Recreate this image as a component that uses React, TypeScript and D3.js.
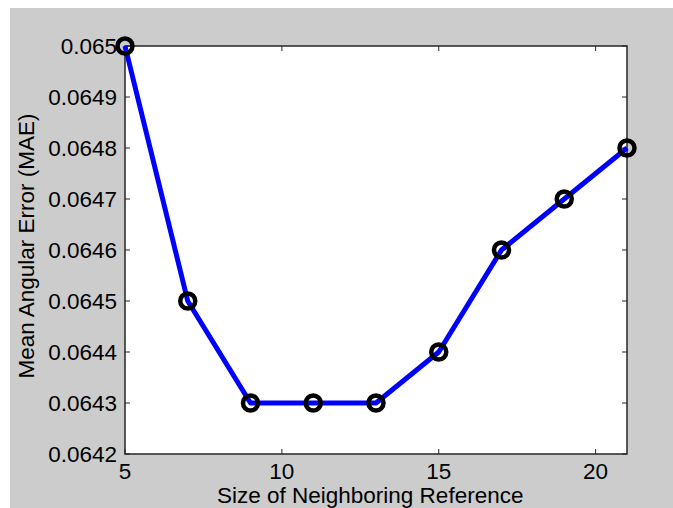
import React from "react";
import * as d3 from "d3";

const xValues = [5, 7, 9, 11, 13, 15, 17, 19, 21];
const maeValues = [0.065, 0.0645, 0.0643, 0.0643, 0.0643, 0.0644, 0.0646, 0.0647, 0.0648];
const xTicks = [5, 10, 15, 20];
const yTicks = [0.0642, 0.0643, 0.0644, 0.0645, 0.0646, 0.0647, 0.0648, 0.0649, 0.065];
const yTickLabels = ["0.0642", "0.0643", "0.0644", "0.0645", "0.0646", "0.0647", "0.0648", "0.0649", "0.065"];

const W = 673, H = 508;
const L = 125, R = 627, T = 46, B = 454;
const FONT = "'Liberation Sans', Arial, sans-serif";
const FS = 22.5;

export default function App() {
  const x = d3.scaleLinear().domain([5, 21]).range([L, R]);
  const y = d3.scaleLinear().domain([0.0642, 0.065]).range([B, T]);
  const line = d3.line<number>().x((_, i) => x(xValues[i])).y((d) => y(d));
  const tl = 5;
  return (
    <svg width={W} height={H} style={{ position: "absolute", left: 0, top: 0, background: "#fff" }}>
      <rect x={10} y={8} width={W - 10} height={H - 8} fill="#cccccc" />
      <rect x={L} y={T} width={R - L} height={B - T} fill="#ffffff" />
      {xTicks.map((t) => (
        <g key={"x" + t}>
          <line x1={x(t)} x2={x(t)} y1={B} y2={B - tl} stroke="#262626" />
          <line x1={x(t)} x2={x(t)} y1={T} y2={T + tl} stroke="#262626" />
          <text x={x(t)} y={479} textAnchor="middle" fontFamily={FONT} fontSize={FS} fill="#000">{t}</text>
        </g>
      ))}
      {yTicks.map((t, i) => (
        <g key={"y" + i}>
          <line x1={L} x2={L + tl} y1={y(t)} y2={y(t)} stroke="#262626" />
          <line x1={R} x2={R - tl} y1={y(t)} y2={y(t)} stroke="#262626" />
          <text x={117} y={y(t)} dy="0.36em" textAnchor="end" fontFamily={FONT} fontSize={FS} fill="#000">{yTickLabels[i]}</text>
        </g>
      ))}
      <rect x={L} y={T} width={R - L} height={B - T} fill="none" stroke="#262626" strokeWidth={1.5} />
      <path d={line(maeValues) || ""} fill="none" stroke="#0000ff" strokeWidth={5} strokeLinejoin="round" />
      {maeValues.map((v, i) => (
        <circle key={i} cx={x(xValues[i])} cy={y(v)} r={7.5} fill="none" stroke="#000" strokeWidth={4.5} />
      ))}
      <text x={217} y={503} textAnchor="start" fontFamily={FONT} fontSize={FS} fill="#000">Size of Neighboring Reference</text>
      <text transform={`translate(34,246) rotate(-90)`} textAnchor="middle" fontFamily={FONT} fontSize={FS} fill="#000">Mean Angular Error (MAE)</text>
    </svg>
  );
}
